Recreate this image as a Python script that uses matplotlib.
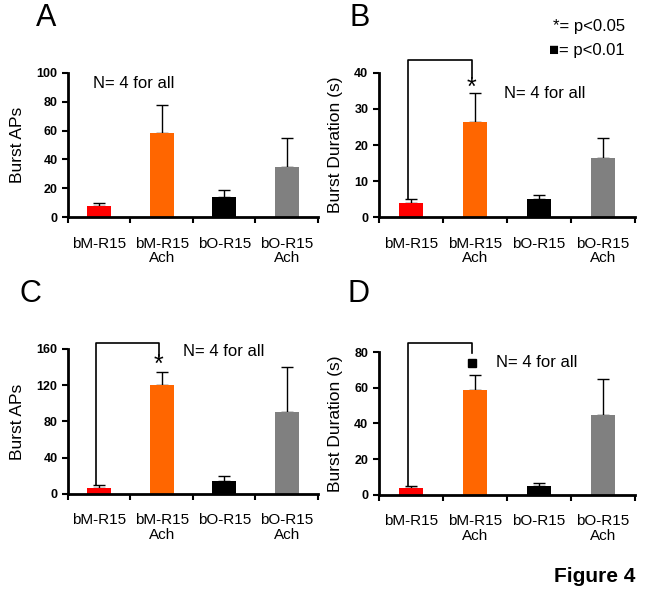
import matplotlib
matplotlib.use("Agg")
import matplotlib.pyplot as plt

plt.rcParams['font.family'] = ['Liberation Sans', 'DejaVu Sans']

# Data
groups = ['bM-R15', 'bM-R15\nAch', 'bO-R15', 'bO-R15\nAch']
colors = ['#ff0000', '#ff6600', '#000000', '#808080']

a_mean = [7.5, 58, 14, 35]
a_err = [2.5, 20, 5, 20]
b_mean = [4, 26.5, 5, 16.5]
b_err = [1, 8, 1, 5.5]
c_mean = [7, 120, 14, 90]
c_err = [3, 15, 6, 50]
d_mean = [4, 59, 5, 45]
d_err = [1, 8, 1.5, 20]

fig = plt.figure(figsize=(6.53, 6.08), dpi=100)


def draw_panel(rect, mean, err, ylim, yticks, ylabel):
    ax = fig.add_axes(rect)
    x = range(len(mean))
    ax.bar(x, mean, width=0.38, color=colors, zorder=2)
    # error bars behind the bars so only the upper half shows
    ax.errorbar(x, mean, yerr=[[0] * len(err), err], fmt='none',
                ecolor='black', elinewidth=1, capsize=4, capthick=1, zorder=1)
    ax.set_xlim(-0.5, 3.5)
    ax.set_ylim(*ylim)
    ax.set_yticks(yticks)
    ax.set_yticklabels([str(t) for t in yticks], fontweight='bold', fontsize=9)
    ax.set_xticks([i + 0.5 for i in range(-1, 4)])
    ax.set_xticklabels([])
    ax.set_xticks(list(x), minor=True)
    ax.set_xticklabels(groups, minor=True, fontsize=11, linespacing=1.05)
    ax.tick_params(axis='x', which='minor', length=0, pad=14)
    ax.tick_params(axis='x', which='major', direction='out', length=4, width=1.5)
    ax.tick_params(axis='y', direction='out', length=4, width=1.5)
    for s in ['top', 'right']:
        ax.spines[s].set_visible(False)
    for s in ['left', 'bottom']:
        ax.spines[s].set_linewidth(2)
    ax.set_ylabel(ylabel, fontsize=12.5, labelpad=8)
    return ax


def bracket(ax, x0, x1, y_left, y_top, y_right, mark_y, mark):
    ax.plot([x0, x0, x1, x1], [y_left, y_top, y_top, y_right],
            color='black', lw=1.2, clip_on=False, zorder=4)
    if mark == '*':
        ax.text(x1, mark_y, '*', ha='center', va='center', fontsize=18)
    else:
        ax.plot([x1], [mark_y], marker='s', color='black', markersize=6,
                clip_on=False, zorder=4)


axA = draw_panel([0.104, 0.643, 0.383, 0.237], a_mean, a_err, (0, 100),
                 [0, 20, 40, 60, 80, 100], 'Burst APs')
axA.text(0.1, 0.93, 'N= 4 for all', transform=axA.transAxes, fontsize=12,
         va='center', ha='left')

axB = draw_panel([0.580, 0.643, 0.392, 0.237], b_mean, b_err, (0, 40),
                 [0, 10, 20, 30, 40], 'Burst Duration (s)')
axB.text(0.49, 0.86, 'N= 4 for all', transform=axB.transAxes, fontsize=12,
         va='center', ha='left')
bracket(axB, -0.05, 0.95, 5, 43.6, 38.6, 35.8, '*')

axC = draw_panel([0.104, 0.1875, 0.383, 0.2385], c_mean, c_err, (0, 160),
                 [0, 40, 80, 120, 160], 'Burst APs')
axC.text(0.46, 0.98, 'N= 4 for all', transform=axC.transAxes, fontsize=12,
         va='center', ha='left')
bracket(axC, -0.05, 0.95, 10, 167, 152, 142, '*')

axD = draw_panel([0.580, 0.186, 0.392, 0.235], d_mean, d_err, (0, 80),
                 [0, 20, 40, 60, 80], 'Burst Duration (s)')
axD.text(0.46, 0.93, 'N= 4 for all', transform=axD.transAxes, fontsize=12,
         va='center', ha='left')
bracket(axD, -0.05, 0.95, 5, 85, 79.4, 73.8, 's')

# Panel letters
for lbl, (px, py) in zip('ABCD', [(46, 18), (360, 18), (30, 294), (358, 294)]):
    fig.text(px / 653, 1 - py / 608, lbl, fontsize=22, ha='center', va='center')

# Significance legend
fig.text(625 / 653, 1 - 27 / 608, '*= p<0.05', fontsize=12, ha='right', va='center')
fig.text(625 / 653, 1 - 50 / 608, '\u25a0= p<0.01', fontsize=12, ha='right', va='center',
         family=['Liberation Sans', 'DejaVu Sans'])

fig.text(635 / 653, 1 - 577 / 608, 'Figure 4', fontsize=15, fontweight='bold',
         ha='right', va='center')

fig.savefig('out.png', dpi=100)
